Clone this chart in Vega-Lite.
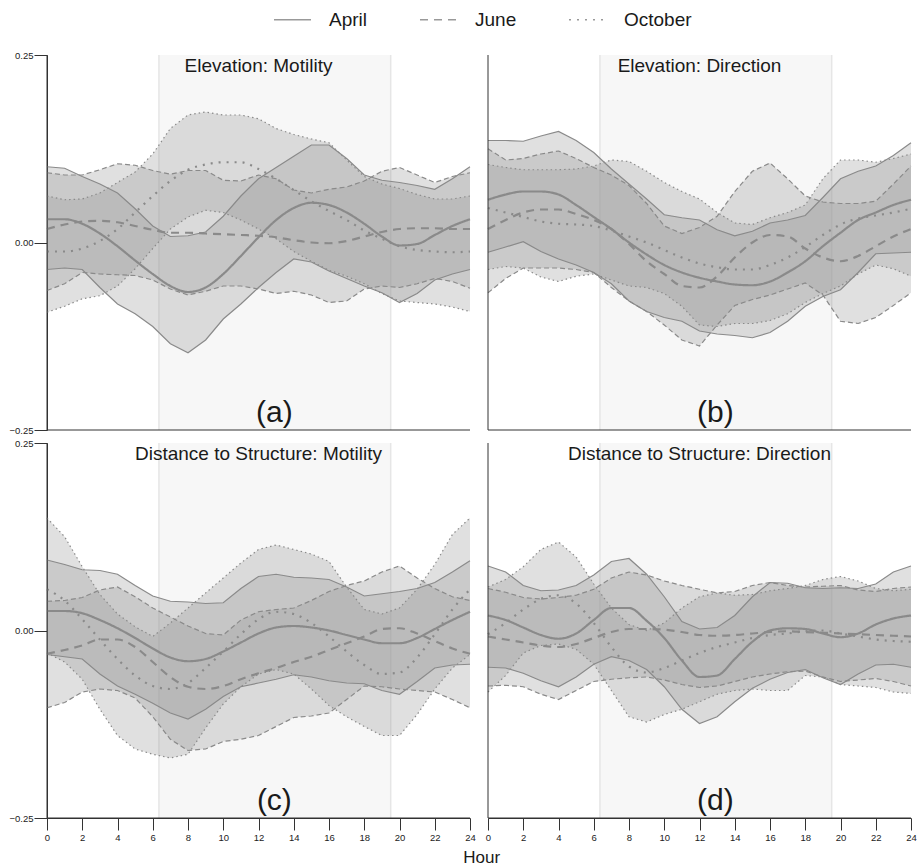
{
  "$schema": "https://vega.github.io/schema/vega-lite/v6.json",
  "padding": {"left": 8, "top": 0, "right": 6, "bottom": 2},
  "bounds": "flush",
  "data": {"values": [
      {"p": "a", "title": "Elevation: Motility", "tag": "(a)"},
      {"p": "b", "title": "Elevation: Direction", "tag": "(b)"},
      {"p": "c", "title": "Distance to Structure: Motility", "tag": "(c)"},
      {"p": "d", "title": "Distance to Structure: Direction", "tag": "(d)"},
      {"p":"a","m":"April","h":0,"y":0.031,"l":-0.036,"u":0.101},
      {"p":"a","m":"April","h":1,"y":0.031,"l":-0.034,"u":0.099},
      {"p":"a","m":"April","h":2,"y":0.025,"l":-0.036,"u":0.088},
      {"p":"a","m":"April","h":3,"y":0.012,"l":-0.060,"u":0.078},
      {"p":"a","m":"April","h":4,"y":-0.005,"l":-0.082,"u":0.066},
      {"p":"a","m":"April","h":5,"y":-0.024,"l":-0.095,"u":0.045},
      {"p":"a","m":"April","h":6,"y":-0.042,"l":-0.112,"u":0.022},
      {"p":"a","m":"April","h":7,"y":-0.058,"l":-0.135,"u":0.008},
      {"p":"a","m":"April","h":8,"y":-0.066,"l":-0.147,"u":0.009},
      {"p":"a","m":"April","h":9,"y":-0.060,"l":-0.130,"u":0.014},
      {"p":"a","m":"April","h":10,"y":-0.042,"l":-0.102,"u":0.035},
      {"p":"a","m":"April","h":11,"y":-0.018,"l":-0.082,"u":0.062},
      {"p":"a","m":"April","h":12,"y":0.007,"l":-0.060,"u":0.085},
      {"p":"a","m":"April","h":13,"y":0.030,"l":-0.040,"u":0.100},
      {"p":"a","m":"April","h":14,"y":0.046,"l":-0.022,"u":0.115},
      {"p":"a","m":"April","h":15,"y":0.053,"l":-0.026,"u":0.130},
      {"p":"a","m":"April","h":16,"y":0.050,"l":-0.038,"u":0.130},
      {"p":"a","m":"April","h":17,"y":0.040,"l":-0.048,"u":0.112},
      {"p":"a","m":"April","h":18,"y":0.025,"l":-0.058,"u":0.090},
      {"p":"a","m":"April","h":19,"y":0.008,"l":-0.067,"u":0.083},
      {"p":"a","m":"April","h":20,"y":-0.004,"l":-0.080,"u":0.080},
      {"p":"a","m":"April","h":21,"y":-0.002,"l":-0.068,"u":0.076},
      {"p":"a","m":"April","h":22,"y":0.010,"l":-0.050,"u":0.071},
      {"p":"a","m":"April","h":23,"y":0.022,"l":-0.042,"u":0.085},
      {"p":"a","m":"April","h":24,"y":0.031,"l":-0.036,"u":0.101},
      {"p":"a","m":"June","h":0,"y":0.018,"l":-0.064,"u":0.093},
      {"p":"a","m":"June","h":1,"y":0.024,"l":-0.055,"u":0.090},
      {"p":"a","m":"June","h":2,"y":0.028,"l":-0.040,"u":0.090},
      {"p":"a","m":"June","h":3,"y":0.029,"l":-0.042,"u":0.097},
      {"p":"a","m":"June","h":4,"y":0.027,"l":-0.043,"u":0.105},
      {"p":"a","m":"June","h":5,"y":0.022,"l":-0.044,"u":0.103},
      {"p":"a","m":"June","h":6,"y":0.017,"l":-0.050,"u":0.096},
      {"p":"a","m":"June","h":7,"y":0.013,"l":-0.062,"u":0.091},
      {"p":"a","m":"June","h":8,"y":0.013,"l":-0.070,"u":0.096},
      {"p":"a","m":"June","h":9,"y":0.012,"l":-0.065,"u":0.096},
      {"p":"a","m":"June","h":10,"y":0.011,"l":-0.058,"u":0.083},
      {"p":"a","m":"June","h":11,"y":0.010,"l":-0.058,"u":0.082},
      {"p":"a","m":"June","h":12,"y":0.009,"l":-0.062,"u":0.090},
      {"p":"a","m":"June","h":13,"y":0.007,"l":-0.068,"u":0.085},
      {"p":"a","m":"June","h":14,"y":0.003,"l":-0.065,"u":0.070},
      {"p":"a","m":"June","h":15,"y":0.000,"l":-0.070,"u":0.066},
      {"p":"a","m":"June","h":16,"y":-0.001,"l":-0.080,"u":0.071},
      {"p":"a","m":"June","h":17,"y":0.002,"l":-0.078,"u":0.074},
      {"p":"a","m":"June","h":18,"y":0.008,"l":-0.062,"u":0.082},
      {"p":"a","m":"June","h":19,"y":0.014,"l":-0.058,"u":0.095},
      {"p":"a","m":"June","h":20,"y":0.018,"l":-0.060,"u":0.100},
      {"p":"a","m":"June","h":21,"y":0.019,"l":-0.055,"u":0.090},
      {"p":"a","m":"June","h":22,"y":0.019,"l":-0.048,"u":0.080},
      {"p":"a","m":"June","h":23,"y":0.018,"l":-0.052,"u":0.088},
      {"p":"a","m":"June","h":24,"y":0.018,"l":-0.061,"u":0.093},
      {"p":"a","m":"October","h":0,"y":-0.012,"l":-0.093,"u":0.062},
      {"p":"a","m":"October","h":1,"y":-0.012,"l":-0.085,"u":0.057},
      {"p":"a","m":"October","h":2,"y":-0.008,"l":-0.075,"u":0.058},
      {"p":"a","m":"October","h":3,"y":0.002,"l":-0.071,"u":0.066},
      {"p":"a","m":"October","h":4,"y":0.018,"l":-0.058,"u":0.080},
      {"p":"a","m":"October","h":5,"y":0.040,"l":-0.035,"u":0.094},
      {"p":"a","m":"October","h":6,"y":0.062,"l":-0.008,"u":0.118},
      {"p":"a","m":"October","h":7,"y":0.082,"l":0.018,"u":0.152},
      {"p":"a","m":"October","h":8,"y":0.097,"l":0.034,"u":0.170},
      {"p":"a","m":"October","h":9,"y":0.104,"l":0.043,"u":0.174},
      {"p":"a","m":"October","h":10,"y":0.107,"l":0.040,"u":0.170},
      {"p":"a","m":"October","h":11,"y":0.107,"l":0.030,"u":0.170},
      {"p":"a","m":"October","h":12,"y":0.098,"l":0.018,"u":0.165},
      {"p":"a","m":"October","h":13,"y":0.085,"l":0.005,"u":0.152},
      {"p":"a","m":"October","h":14,"y":0.070,"l":-0.012,"u":0.144},
      {"p":"a","m":"October","h":15,"y":0.055,"l":-0.025,"u":0.138},
      {"p":"a","m":"October","h":16,"y":0.042,"l":-0.037,"u":0.133},
      {"p":"a","m":"October","h":17,"y":0.030,"l":-0.045,"u":0.110},
      {"p":"a","m":"October","h":18,"y":0.016,"l":-0.055,"u":0.088},
      {"p":"a","m":"October","h":19,"y":0.005,"l":-0.068,"u":0.078},
      {"p":"a","m":"October","h":20,"y":-0.005,"l":-0.078,"u":0.072},
      {"p":"a","m":"October","h":21,"y":-0.010,"l":-0.080,"u":0.064},
      {"p":"a","m":"October","h":22,"y":-0.012,"l":-0.082,"u":0.058},
      {"p":"a","m":"October","h":23,"y":-0.013,"l":-0.086,"u":0.058},
      {"p":"a","m":"October","h":24,"y":-0.012,"l":-0.092,"u":0.062},
      {"p":"b","m":"April","h":0,"y":0.057,"l":-0.013,"u":0.136},
      {"p":"b","m":"April","h":1,"y":0.064,"l":-0.006,"u":0.136},
      {"p":"b","m":"April","h":2,"y":0.068,"l":0.001,"u":0.135},
      {"p":"b","m":"April","h":3,"y":0.068,"l":-0.012,"u":0.142},
      {"p":"b","m":"April","h":4,"y":0.064,"l":-0.022,"u":0.148},
      {"p":"b","m":"April","h":5,"y":0.050,"l":-0.030,"u":0.136},
      {"p":"b","m":"April","h":6,"y":0.034,"l":-0.040,"u":0.120},
      {"p":"b","m":"April","h":7,"y":0.018,"l":-0.055,"u":0.098},
      {"p":"b","m":"April","h":8,"y":0.000,"l":-0.078,"u":0.078},
      {"p":"b","m":"April","h":9,"y":-0.016,"l":-0.092,"u":0.058},
      {"p":"b","m":"April","h":10,"y":-0.030,"l":-0.100,"u":0.037},
      {"p":"b","m":"April","h":11,"y":-0.040,"l":-0.105,"u":0.033},
      {"p":"b","m":"April","h":12,"y":-0.047,"l":-0.118,"u":0.030},
      {"p":"b","m":"April","h":13,"y":-0.052,"l":-0.122,"u":0.017},
      {"p":"b","m":"April","h":14,"y":-0.056,"l":-0.124,"u":0.009},
      {"p":"b","m":"April","h":15,"y":-0.057,"l":-0.127,"u":0.015},
      {"p":"b","m":"April","h":16,"y":-0.052,"l":-0.120,"u":0.026},
      {"p":"b","m":"April","h":17,"y":-0.040,"l":-0.105,"u":0.030},
      {"p":"b","m":"April","h":18,"y":-0.025,"l":-0.085,"u":0.036},
      {"p":"b","m":"April","h":19,"y":-0.005,"l":-0.072,"u":0.060},
      {"p":"b","m":"April","h":20,"y":0.013,"l":-0.063,"u":0.085},
      {"p":"b","m":"April","h":21,"y":0.030,"l":-0.040,"u":0.095},
      {"p":"b","m":"April","h":22,"y":0.040,"l":-0.015,"u":0.102},
      {"p":"b","m":"April","h":23,"y":0.050,"l":-0.014,"u":0.116},
      {"p":"b","m":"April","h":24,"y":0.057,"l":-0.013,"u":0.133},
      {"p":"b","m":"June","h":0,"y":0.018,"l":-0.067,"u":0.125},
      {"p":"b","m":"June","h":1,"y":0.030,"l":-0.048,"u":0.110},
      {"p":"b","m":"June","h":2,"y":0.040,"l":-0.034,"u":0.112},
      {"p":"b","m":"June","h":3,"y":0.044,"l":-0.034,"u":0.118},
      {"p":"b","m":"June","h":4,"y":0.044,"l":-0.034,"u":0.122},
      {"p":"b","m":"June","h":5,"y":0.038,"l":-0.036,"u":0.112},
      {"p":"b","m":"June","h":6,"y":0.030,"l":-0.040,"u":0.100},
      {"p":"b","m":"June","h":7,"y":0.018,"l":-0.060,"u":0.090},
      {"p":"b","m":"June","h":8,"y":-0.002,"l":-0.078,"u":0.076},
      {"p":"b","m":"June","h":9,"y":-0.025,"l":-0.092,"u":0.052},
      {"p":"b","m":"June","h":10,"y":-0.042,"l":-0.110,"u":0.022},
      {"p":"b","m":"June","h":11,"y":-0.058,"l":-0.130,"u":0.012},
      {"p":"b","m":"June","h":12,"y":-0.060,"l":-0.138,"u":0.020},
      {"p":"b","m":"June","h":13,"y":-0.045,"l":-0.110,"u":0.035},
      {"p":"b","m":"June","h":14,"y":-0.020,"l":-0.084,"u":0.068},
      {"p":"b","m":"June","h":15,"y":0.000,"l":-0.076,"u":0.095},
      {"p":"b","m":"June","h":16,"y":0.010,"l":-0.070,"u":0.106},
      {"p":"b","m":"June","h":17,"y":0.008,"l":-0.062,"u":0.085},
      {"p":"b","m":"June","h":18,"y":-0.008,"l":-0.054,"u":0.062},
      {"p":"b","m":"June","h":19,"y":-0.020,"l":-0.070,"u":0.054},
      {"p":"b","m":"June","h":20,"y":-0.025,"l":-0.105,"u":0.052},
      {"p":"b","m":"June","h":21,"y":-0.018,"l":-0.108,"u":0.052},
      {"p":"b","m":"June","h":22,"y":-0.005,"l":-0.100,"u":0.055},
      {"p":"b","m":"June","h":23,"y":0.008,"l":-0.084,"u":0.078},
      {"p":"b","m":"June","h":24,"y":0.018,"l":-0.067,"u":0.102},
      {"p":"b","m":"October","h":0,"y":0.046,"l":-0.036,"u":0.104},
      {"p":"b","m":"October","h":1,"y":0.040,"l":-0.032,"u":0.100},
      {"p":"b","m":"October","h":2,"y":0.034,"l":-0.034,"u":0.097},
      {"p":"b","m":"October","h":3,"y":0.028,"l":-0.046,"u":0.097},
      {"p":"b","m":"October","h":4,"y":0.025,"l":-0.052,"u":0.097},
      {"p":"b","m":"October","h":5,"y":0.024,"l":-0.045,"u":0.098},
      {"p":"b","m":"October","h":6,"y":0.022,"l":-0.042,"u":0.102},
      {"p":"b","m":"October","h":7,"y":0.016,"l":-0.050,"u":0.110},
      {"p":"b","m":"October","h":8,"y":0.008,"l":-0.058,"u":0.108},
      {"p":"b","m":"October","h":9,"y":0.000,"l":-0.060,"u":0.095},
      {"p":"b","m":"October","h":10,"y":-0.010,"l":-0.068,"u":0.080},
      {"p":"b","m":"October","h":11,"y":-0.020,"l":-0.085,"u":0.068},
      {"p":"b","m":"October","h":12,"y":-0.028,"l":-0.110,"u":0.058},
      {"p":"b","m":"October","h":13,"y":-0.033,"l":-0.112,"u":0.040},
      {"p":"b","m":"October","h":14,"y":-0.036,"l":-0.108,"u":0.026},
      {"p":"b","m":"October","h":15,"y":-0.036,"l":-0.108,"u":0.024},
      {"p":"b","m":"October","h":16,"y":-0.030,"l":-0.104,"u":0.033},
      {"p":"b","m":"October","h":17,"y":-0.020,"l":-0.095,"u":0.040},
      {"p":"b","m":"October","h":18,"y":-0.006,"l":-0.080,"u":0.050},
      {"p":"b","m":"October","h":19,"y":0.010,"l":-0.068,"u":0.085},
      {"p":"b","m":"October","h":20,"y":0.024,"l":-0.058,"u":0.110},
      {"p":"b","m":"October","h":21,"y":0.032,"l":-0.042,"u":0.110},
      {"p":"b","m":"October","h":22,"y":0.036,"l":-0.030,"u":0.107},
      {"p":"b","m":"October","h":23,"y":0.040,"l":-0.035,"u":0.112},
      {"p":"b","m":"October","h":24,"y":0.045,"l":-0.045,"u":0.118},
      {"p":"c","m":"April","h":0,"y":0.026,"l":-0.032,"u":0.094},
      {"p":"c","m":"April","h":1,"y":0.026,"l":-0.035,"u":0.088},
      {"p":"c","m":"April","h":2,"y":0.023,"l":-0.038,"u":0.081},
      {"p":"c","m":"April","h":3,"y":0.014,"l":-0.058,"u":0.080},
      {"p":"c","m":"April","h":4,"y":0.003,"l":-0.074,"u":0.075},
      {"p":"c","m":"April","h":5,"y":-0.010,"l":-0.085,"u":0.060},
      {"p":"c","m":"April","h":6,"y":-0.024,"l":-0.097,"u":0.046},
      {"p":"c","m":"April","h":7,"y":-0.036,"l":-0.110,"u":0.039},
      {"p":"c","m":"April","h":8,"y":-0.041,"l":-0.118,"u":0.038},
      {"p":"c","m":"April","h":9,"y":-0.038,"l":-0.105,"u":0.036},
      {"p":"c","m":"April","h":10,"y":-0.028,"l":-0.088,"u":0.037},
      {"p":"c","m":"April","h":11,"y":-0.016,"l":-0.075,"u":0.056},
      {"p":"c","m":"April","h":12,"y":-0.004,"l":-0.070,"u":0.072},
      {"p":"c","m":"April","h":13,"y":0.004,"l":-0.065,"u":0.075},
      {"p":"c","m":"April","h":14,"y":0.006,"l":-0.059,"u":0.071},
      {"p":"c","m":"April","h":15,"y":0.004,"l":-0.062,"u":0.070},
      {"p":"c","m":"April","h":16,"y":0.000,"l":-0.067,"u":0.068},
      {"p":"c","m":"April","h":17,"y":-0.006,"l":-0.070,"u":0.058},
      {"p":"c","m":"April","h":18,"y":-0.012,"l":-0.071,"u":0.046},
      {"p":"c","m":"April","h":19,"y":-0.017,"l":-0.080,"u":0.049},
      {"p":"c","m":"April","h":20,"y":-0.017,"l":-0.085,"u":0.052},
      {"p":"c","m":"April","h":21,"y":-0.010,"l":-0.068,"u":0.056},
      {"p":"c","m":"April","h":22,"y":0.002,"l":-0.050,"u":0.064},
      {"p":"c","m":"April","h":23,"y":0.014,"l":-0.046,"u":0.078},
      {"p":"c","m":"April","h":24,"y":0.025,"l":-0.045,"u":0.093},
      {"p":"c","m":"June","h":0,"y":-0.031,"l":-0.103,"u":0.039},
      {"p":"c","m":"June","h":1,"y":-0.026,"l":-0.096,"u":0.040},
      {"p":"c","m":"June","h":2,"y":-0.020,"l":-0.082,"u":0.044},
      {"p":"c","m":"June","h":3,"y":-0.012,"l":-0.078,"u":0.054},
      {"p":"c","m":"June","h":4,"y":-0.012,"l":-0.080,"u":0.058},
      {"p":"c","m":"June","h":5,"y":-0.022,"l":-0.090,"u":0.045},
      {"p":"c","m":"June","h":6,"y":-0.042,"l":-0.115,"u":0.030},
      {"p":"c","m":"June","h":7,"y":-0.062,"l":-0.145,"u":0.018},
      {"p":"c","m":"June","h":8,"y":-0.075,"l":-0.160,"u":0.006},
      {"p":"c","m":"June","h":9,"y":-0.078,"l":-0.158,"u":-0.004},
      {"p":"c","m":"June","h":10,"y":-0.074,"l":-0.148,"u":-0.006},
      {"p":"c","m":"June","h":11,"y":-0.065,"l":-0.145,"u":0.014},
      {"p":"c","m":"June","h":12,"y":-0.057,"l":-0.140,"u":0.025},
      {"p":"c","m":"June","h":13,"y":-0.050,"l":-0.128,"u":0.028},
      {"p":"c","m":"June","h":14,"y":-0.042,"l":-0.116,"u":0.030},
      {"p":"c","m":"June","h":15,"y":-0.035,"l":-0.114,"u":0.040},
      {"p":"c","m":"June","h":16,"y":-0.026,"l":-0.110,"u":0.052},
      {"p":"c","m":"June","h":17,"y":-0.017,"l":-0.092,"u":0.060},
      {"p":"c","m":"June","h":18,"y":-0.008,"l":-0.074,"u":0.066},
      {"p":"c","m":"June","h":19,"y":0.002,"l":-0.075,"u":0.078},
      {"p":"c","m":"June","h":20,"y":0.003,"l":-0.078,"u":0.086},
      {"p":"c","m":"June","h":21,"y":-0.004,"l":-0.080,"u":0.070},
      {"p":"c","m":"June","h":22,"y":-0.014,"l":-0.082,"u":0.056},
      {"p":"c","m":"June","h":23,"y":-0.024,"l":-0.092,"u":0.045},
      {"p":"c","m":"June","h":24,"y":-0.031,"l":-0.103,"u":0.040},
      {"p":"c","m":"October","h":0,"y":0.055,"l":-0.030,"u":0.150},
      {"p":"c","m":"October","h":1,"y":0.040,"l":-0.042,"u":0.125},
      {"p":"c","m":"October","h":2,"y":0.015,"l":-0.065,"u":0.085},
      {"p":"c","m":"October","h":3,"y":-0.012,"l":-0.105,"u":0.048},
      {"p":"c","m":"October","h":4,"y":-0.038,"l":-0.140,"u":0.022},
      {"p":"c","m":"October","h":5,"y":-0.060,"l":-0.158,"u":0.005},
      {"p":"c","m":"October","h":6,"y":-0.074,"l":-0.165,"u":-0.008},
      {"p":"c","m":"October","h":7,"y":-0.078,"l":-0.170,"u":0.010},
      {"p":"c","m":"October","h":8,"y":-0.070,"l":-0.165,"u":0.030},
      {"p":"c","m":"October","h":9,"y":-0.050,"l":-0.130,"u":0.050},
      {"p":"c","m":"October","h":10,"y":-0.028,"l":-0.098,"u":0.070},
      {"p":"c","m":"October","h":11,"y":-0.005,"l":-0.075,"u":0.090},
      {"p":"c","m":"October","h":12,"y":0.015,"l":-0.058,"u":0.108},
      {"p":"c","m":"October","h":13,"y":0.025,"l":-0.052,"u":0.114},
      {"p":"c","m":"October","h":14,"y":0.022,"l":-0.058,"u":0.108},
      {"p":"c","m":"October","h":15,"y":0.010,"l":-0.078,"u":0.102},
      {"p":"c","m":"October","h":16,"y":-0.008,"l":-0.100,"u":0.092},
      {"p":"c","m":"October","h":17,"y":-0.028,"l":-0.115,"u":0.058},
      {"p":"c","m":"October","h":18,"y":-0.046,"l":-0.128,"u":0.028},
      {"p":"c","m":"October","h":19,"y":-0.058,"l":-0.140,"u":0.022},
      {"p":"c","m":"October","h":20,"y":-0.056,"l":-0.140,"u":0.030},
      {"p":"c","m":"October","h":21,"y":-0.036,"l":-0.112,"u":0.055},
      {"p":"c","m":"October","h":22,"y":-0.005,"l":-0.078,"u":0.088},
      {"p":"c","m":"October","h":23,"y":0.028,"l":-0.050,"u":0.128},
      {"p":"c","m":"October","h":24,"y":0.055,"l":-0.032,"u":0.150},
      {"p":"d","m":"April","h":0,"y":0.020,"l":-0.049,"u":0.086},
      {"p":"d","m":"April","h":1,"y":0.014,"l":-0.050,"u":0.078},
      {"p":"d","m":"April","h":2,"y":0.004,"l":-0.057,"u":0.060},
      {"p":"d","m":"April","h":3,"y":-0.006,"l":-0.067,"u":0.053},
      {"p":"d","m":"April","h":4,"y":-0.011,"l":-0.075,"u":0.054},
      {"p":"d","m":"April","h":5,"y":-0.004,"l":-0.062,"u":0.060},
      {"p":"d","m":"April","h":6,"y":0.014,"l":-0.045,"u":0.074},
      {"p":"d","m":"April","h":7,"y":0.030,"l":-0.035,"u":0.092},
      {"p":"d","m":"April","h":8,"y":0.030,"l":-0.040,"u":0.096},
      {"p":"d","m":"April","h":9,"y":0.013,"l":-0.052,"u":0.075},
      {"p":"d","m":"April","h":10,"y":-0.010,"l":-0.075,"u":0.045},
      {"p":"d","m":"April","h":11,"y":-0.040,"l":-0.105,"u":0.012},
      {"p":"d","m":"April","h":12,"y":-0.062,"l":-0.124,"u":0.002},
      {"p":"d","m":"April","h":13,"y":-0.060,"l":-0.115,"u":0.004},
      {"p":"d","m":"April","h":14,"y":-0.038,"l":-0.095,"u":0.020},
      {"p":"d","m":"April","h":15,"y":-0.015,"l":-0.077,"u":0.045},
      {"p":"d","m":"April","h":16,"y":0.000,"l":-0.065,"u":0.064},
      {"p":"d","m":"April","h":17,"y":0.003,"l":-0.056,"u":0.063},
      {"p":"d","m":"April","h":18,"y":0.002,"l":-0.052,"u":0.057},
      {"p":"d","m":"April","h":19,"y":-0.004,"l":-0.063,"u":0.056},
      {"p":"d","m":"April","h":20,"y":-0.009,"l":-0.072,"u":0.057},
      {"p":"d","m":"April","h":21,"y":-0.004,"l":-0.058,"u":0.056},
      {"p":"d","m":"April","h":22,"y":0.008,"l":-0.046,"u":0.062},
      {"p":"d","m":"April","h":23,"y":0.016,"l":-0.045,"u":0.078},
      {"p":"d","m":"April","h":24,"y":0.020,"l":-0.049,"u":0.086},
      {"p":"d","m":"June","h":0,"y":-0.008,"l":-0.074,"u":0.056},
      {"p":"d","m":"June","h":1,"y":-0.012,"l":-0.073,"u":0.051},
      {"p":"d","m":"June","h":2,"y":-0.016,"l":-0.075,"u":0.044},
      {"p":"d","m":"June","h":3,"y":-0.020,"l":-0.085,"u":0.042},
      {"p":"d","m":"June","h":4,"y":-0.022,"l":-0.092,"u":0.044},
      {"p":"d","m":"June","h":5,"y":-0.018,"l":-0.080,"u":0.047},
      {"p":"d","m":"June","h":6,"y":-0.010,"l":-0.068,"u":0.055},
      {"p":"d","m":"June","h":7,"y":-0.002,"l":-0.065,"u":0.070},
      {"p":"d","m":"June","h":8,"y":0.002,"l":-0.063,"u":0.078},
      {"p":"d","m":"June","h":9,"y":0.002,"l":-0.062,"u":0.074},
      {"p":"d","m":"June","h":10,"y":0.001,"l":-0.066,"u":0.066},
      {"p":"d","m":"June","h":11,"y":-0.002,"l":-0.072,"u":0.060},
      {"p":"d","m":"June","h":12,"y":-0.006,"l":-0.076,"u":0.055},
      {"p":"d","m":"June","h":13,"y":-0.007,"l":-0.074,"u":0.050},
      {"p":"d","m":"June","h":14,"y":-0.006,"l":-0.068,"u":0.052},
      {"p":"d","m":"June","h":15,"y":-0.004,"l":-0.062,"u":0.060},
      {"p":"d","m":"June","h":16,"y":-0.002,"l":-0.058,"u":0.064},
      {"p":"d","m":"June","h":17,"y":-0.001,"l":-0.055,"u":0.060},
      {"p":"d","m":"June","h":18,"y":-0.002,"l":-0.054,"u":0.058},
      {"p":"d","m":"June","h":19,"y":-0.003,"l":-0.062,"u":0.059},
      {"p":"d","m":"June","h":20,"y":-0.004,"l":-0.068,"u":0.060},
      {"p":"d","m":"June","h":21,"y":-0.005,"l":-0.066,"u":0.054},
      {"p":"d","m":"June","h":22,"y":-0.006,"l":-0.064,"u":0.052},
      {"p":"d","m":"June","h":23,"y":-0.007,"l":-0.068,"u":0.056},
      {"p":"d","m":"June","h":24,"y":-0.008,"l":-0.074,"u":0.058},
      {"p":"d","m":"October","h":0,"y":-0.005,"l":-0.082,"u":0.058},
      {"p":"d","m":"October","h":1,"y":0.010,"l":-0.060,"u":0.068},
      {"p":"d","m":"October","h":2,"y":0.028,"l":-0.030,"u":0.085},
      {"p":"d","m":"October","h":3,"y":0.042,"l":-0.020,"u":0.108},
      {"p":"d","m":"October","h":4,"y":0.047,"l":-0.018,"u":0.118},
      {"p":"d","m":"October","h":5,"y":0.036,"l":-0.025,"u":0.098},
      {"p":"d","m":"October","h":6,"y":0.010,"l":-0.045,"u":0.062},
      {"p":"d","m":"October","h":7,"y":-0.022,"l":-0.080,"u":0.030},
      {"p":"d","m":"October","h":8,"y":-0.048,"l":-0.115,"u":0.008},
      {"p":"d","m":"October","h":9,"y":-0.056,"l":-0.122,"u":0.000},
      {"p":"d","m":"October","h":10,"y":-0.050,"l":-0.112,"u":0.010},
      {"p":"d","m":"October","h":11,"y":-0.040,"l":-0.105,"u":0.030},
      {"p":"d","m":"October","h":12,"y":-0.030,"l":-0.095,"u":0.045},
      {"p":"d","m":"October","h":13,"y":-0.022,"l":-0.085,"u":0.050},
      {"p":"d","m":"October","h":14,"y":-0.016,"l":-0.080,"u":0.047},
      {"p":"d","m":"October","h":15,"y":-0.010,"l":-0.078,"u":0.048},
      {"p":"d","m":"October","h":16,"y":-0.006,"l":-0.080,"u":0.053},
      {"p":"d","m":"October","h":17,"y":-0.004,"l":-0.080,"u":0.056},
      {"p":"d","m":"October","h":18,"y":-0.001,"l":-0.060,"u":0.060},
      {"p":"d","m":"October","h":19,"y":0.000,"l":-0.062,"u":0.068},
      {"p":"d","m":"October","h":20,"y":-0.004,"l":-0.072,"u":0.072},
      {"p":"d","m":"October","h":21,"y":-0.008,"l":-0.074,"u":0.066},
      {"p":"d","m":"October","h":22,"y":-0.012,"l":-0.076,"u":0.056},
      {"p":"d","m":"October","h":23,"y":-0.014,"l":-0.082,"u":0.053},
      {"p":"d","m":"October","h":24,"y":-0.015,"l":-0.084,"u":0.055}
  ]},
  "transform": [
    {"calculate": "(datum.p == 'a' || datum.p == 'b') ? 1 : 2", "as": "prow"},
    {"calculate": "(datum.p == 'a' || datum.p == 'c') ? 1 : 2", "as": "pcol"}
  ],
  "facet": {
    "row": {"field": "prow", "type": "ordinal", "header": null},
    "column": {"field": "pcol", "type": "ordinal", "header": null}
  },
  "spacing": {"row": 13, "column": 18},
  "spec": {
    "width": 423,
    "height": 375,
    "layer": [
      {
        "transform": [{"filter": "datum.title != null"}],
        "mark": {"type": "rect", "fill": "#f7f7f7"},
        "encoding": {
          "x": {
            "datum": 6.35, "type": "quantitative",
            "scale": {"domain": [0, 24], "nice": false, "zero": false},
            "axis": {
              "values": [0, 2, 4, 6, 8, 10, 12, 14, 16, 18, 20, 22, 24],
              "tickCount": 13,
              "title": null,
              "labelOverlap": false,
              "labelSeparation": 0,
              "labelFlush": false
            }
          },
          "x2": {"datum": 19.5}
        }
      },
      {
        "transform": [{"filter": "datum.title != null"}],
        "mark": {"type": "rule", "color": "#e6e6e6", "strokeWidth": 1.5},
        "encoding": {"x": {"datum": 6.35, "type": "quantitative"}}
      },
      {
        "transform": [{"filter": "datum.title != null"}],
        "mark": {"type": "rule", "color": "#e6e6e6", "strokeWidth": 1.5},
        "encoding": {"x": {"datum": 19.5, "type": "quantitative"}}
      },
      {
        "transform": [{"filter": "datum.m != null"}],
        "mark": {"type": "area", "fill": "#999999", "opacity": 0.3},
        "encoding": {
          "x": {
            "field": "h", "type": "quantitative", "title": null,
            "axis": {
              "values": [0, 2, 4, 6, 8, 10, 12, 14, 16, 18, 20, 22, 24],
              "tickCount": 13,
              "title": null,
              "labelOverlap": false,
              "labelSeparation": 0,
              "labelFlush": false
            }
          },
          "y": {
            "field": "l", "type": "quantitative", "title": null,
            "scale": {"domain": [-0.25, 0.25], "nice": false, "zero": false},
            "axis": {"values": [-0.25, 0, 0.25], "format": ".2f", "title": null, "labelOverlap": false}
          },
          "y2": {"field": "u"},
          "detail": {"field": "m"}
        }
      },
      {
        "transform": [{"filter": "datum.m == 'April'"}, {"fold": ["l", "u"], "as": ["k", "v"]}],
        "mark": {"type": "line", "color": "#8a8a8a", "strokeWidth": 1.2},
        "encoding": {
          "x": {"field": "h", "type": "quantitative", "title": null},
          "y": {"field": "v", "type": "quantitative", "title": null},
          "detail": {"field": "k"}
        }
      },
      {
        "transform": [{"filter": "datum.m == 'June'"}, {"fold": ["l", "u"], "as": ["k", "v"]}],
        "mark": {"type": "line", "color": "#8a8a8a", "strokeWidth": 1.2, "strokeDash": [5, 3]},
        "encoding": {
          "x": {"field": "h", "type": "quantitative", "title": null},
          "y": {"field": "v", "type": "quantitative", "title": null},
          "detail": {"field": "k"}
        }
      },
      {
        "transform": [{"filter": "datum.m == 'October'"}, {"fold": ["l", "u"], "as": ["k", "v"]}],
        "mark": {"type": "line", "color": "#8a8a8a", "strokeWidth": 1.2, "strokeDash": [1.5, 3]},
        "encoding": {
          "x": {"field": "h", "type": "quantitative", "title": null},
          "y": {"field": "v", "type": "quantitative", "title": null},
          "detail": {"field": "k"}
        }
      },
      {
        "transform": [{"filter": "datum.m != null"}],
        "mark": {"type": "line", "color": "#8a8a8a", "strokeWidth": 2.2, "interpolate": "monotone"},
        "encoding": {
          "x": {"field": "h", "type": "quantitative", "title": null},
          "y": {"field": "y", "type": "quantitative", "title": null},
          "strokeDash": {
            "field": "m",
            "type": "nominal",
            "scale": {"domain": ["April", "June", "October"], "range": [[1, 0], [8, 6], [2, 6]]},
            "legend": {
              "title": null,
              "orient": "none",
              "legendX": 226,
              "legendY": -55,
              "direction": "horizontal",
              "symbolType": "stroke",
              "symbolSize": 1370,
              "symbolStrokeWidth": 1.5,
              "symbolStrokeColor": "#999999",
              "labelFontSize": 19,
              "labelFont": "Liberation Sans",
              "labelColor": "#1a1a1a",
              "labelOffset": 17,
              "columnPadding": 48
            }
          }
        }
      },
      {
        "transform": [{"filter": "datum.title != null"}],
        "mark": {"type": "text", "fontSize": 19, "baseline": "top", "dy": 2, "color": "#1a1a1a", "font": "Liberation Sans"},
        "encoding": {
          "x": {"datum": 12, "type": "quantitative"},
          "y": {"datum": 0.25, "type": "quantitative"},
          "text": {"field": "title"}
        }
      },
      {
        "transform": [{"filter": "datum.title != null"}],
        "mark": {"type": "text", "fontSize": 30, "baseline": "alphabetic", "dy": -8, "color": "#1a1a1a", "font": "Liberation Sans"},
        "encoding": {
          "x": {"datum": 12.9, "type": "quantitative"},
          "y": {"datum": -0.25, "type": "quantitative"},
          "text": {"field": "tag"}
        }
      },
      {
        "transform": [{"filter": "datum.title != null"}],
        "mark": {"type": "rule", "color": "#333333", "strokeWidth": 1},
        "encoding": {"x": {"datum": 0, "type": "quantitative"}}
      },
      {
        "transform": [{"filter": "datum.title != null"}],
        "mark": {"type": "rule", "color": "#333333", "strokeWidth": 1},
        "encoding": {"y": {"datum": -0.25, "type": "quantitative"}}
      }
    ]
  },
  "title": {
    "text": "Hour",
    "orient": "bottom",
    "anchor": "middle",
    "fontSize": 17,
    "fontWeight": "normal",
    "font": "Liberation Sans",
    "color": "#1a1a1a",
    "offset": 8,
    "dx": 19
  },
  "config": {
    "view": {"stroke": null},
    "font": "Liberation Sans",
    "axisX": {
      "tickSize": 12,
      "labelFontSize": 9.5,
      "labelColor": "#222222",
      "labelPadding": 2,
      "labelFlush": false,
      "labelOverlap": false,
      "domainColor": "#333333",
      "tickColor": "#333333",
      "grid": false
    },
    "axisY": {
      "tickSize": 13,
      "labelFontSize": 9.5,
      "labelColor": "#222222",
      "labelPadding": 1,
      "labelFlush": false,
      "labelOverlap": false,
      "domainColor": "#333333",
      "tickColor": "#333333",
      "grid": false
    }
  }
}
